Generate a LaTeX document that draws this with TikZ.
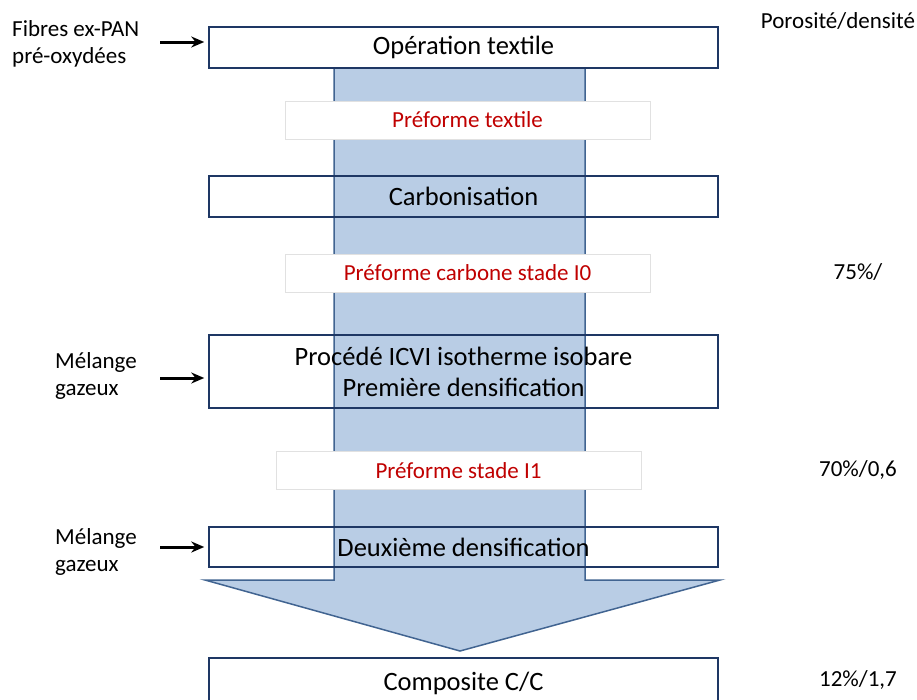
\documentclass[tikz,border=0pt]{standalone}
\usepackage{fontspec}
\setmainfont{Carlito}
\definecolor{shaftblue}{RGB}{185, 205, 229}
\definecolor{shaftline}{RGB}{65, 100, 145}
\definecolor{boxnavy}{RGB}{30, 55, 100}
\definecolor{labelred}{RGB}{192, 0, 0}
\definecolor{labelgrey}{RGB}{225, 225, 225}
\usetikzlibrary{arrows.meta, positioning}

\begin{document}
\begin{tikzpicture}[x=1pt, y=-1pt,
    procbox/.style={draw=boxnavy, line width=1.5pt, minimum width=509pt, inner sep=0pt, align=center, font=\fontsize{26.5}{31}\selectfont},
    stagebox/.style={draw=labelgrey, fill=white, line width=0.6pt, minimum width=365pt, minimum height=38pt, inner sep=0pt, text=labelred, font=\fontsize{23}{26}\selectfont},
    sidetext/.style={align=left, inner sep=0pt, font=\fontsize{23}{27}\selectfont},
    feed/.style={-{Stealth[length=13pt, width=11pt]}, line width=3pt, shorten >=4pt}]
  \useasboundingbox (0,0) rectangle (917,699);

  % The big downward arrow behind the steps
  \draw[fill=shaftblue, draw=shaftline, line width=1.5pt, line join=miter]
    (334,68) -- (585,68) -- (585,580) -- (720,580) -- (460,651)
    -- (205,580) -- (334,580) -- cycle;

  % Process steps
  \node[procbox, minimum height=41pt] (optex) at (463.5,47.5) {Opération textile};
  \node[procbox, minimum height=41pt] (carbo) at (463.5,196.5) {Carbonisation};
  \node[procbox, minimum height=73pt] (icvi) at (463.5,371.5) {Procédé ICVI isotherme isobare\\Première densification};
  \node[procbox, minimum height=40pt] (dens2) at (463.5,547) {Deuxième densification};
  \node[procbox, minimum height=50pt] (compo) at (463.5,683) {Composite C/C};

  % Intermediate preforms
  \node[stagebox] (pftex) at (467.5,120) {Préforme textile};
  \node[stagebox] (pfI0) at (467.5,273) {Préforme carbone stade I0};
  \node[stagebox] (pfI1) at (458.5,470.5) {Préforme stade I1};

  % Inputs on the left
  \node[sidetext, anchor=west] (fibres) at (12,44) {Fibres ex-PAN\\pré-oxydées};
  \node[sidetext, anchor=west] (gaz1) at (55,376) {Mélange\\gazeux};
  \node[sidetext, anchor=west] (gaz2) at (55,552) {Mélange\\gazeux};
  \coordinate (in1) at (160,42);
  \coordinate (in2) at (160,378);
  \coordinate (in3) at (160,547);
  \draw[feed] (in1) -- (optex.west |- in1);
  \draw[feed] (in2) -- (icvi.west |- in2);
  \draw[feed] (in3) -- (dens2.west |- in3);

  % Porosity / density column
  \node[sidetext] (poro) at (838,21) {Porosité/densité};
  \node[sidetext] (poI0) at (858,272) {75\%/};
  \node[sidetext] (poI1) at (858,470) {70\%/0,6};
  \node[sidetext] (pocc) at (858,680) {12\%/1,7};
\end{tikzpicture}
\end{document}
